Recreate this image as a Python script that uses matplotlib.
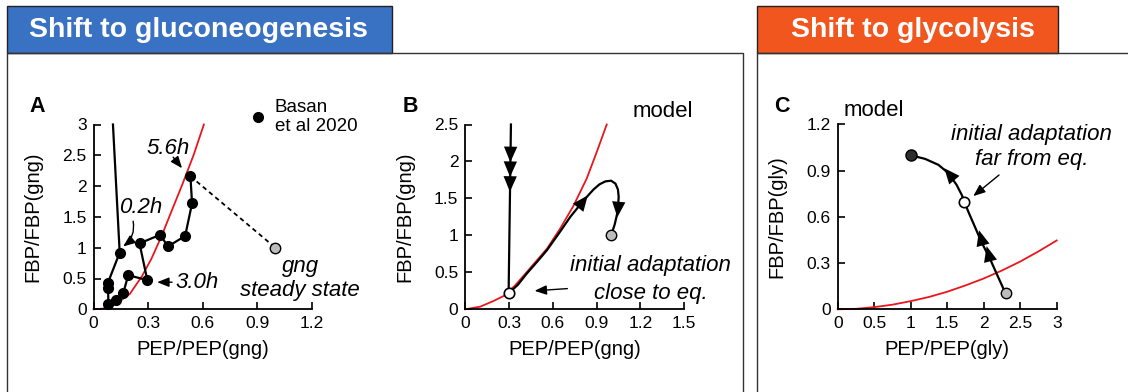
import matplotlib
matplotlib.use('Agg')
import matplotlib.pyplot as plt
from matplotlib.lines import Line2D
from matplotlib.patches import Rectangle

plt.rcParams['font.family'] = ['Liberation Sans', 'DejaVu Sans']

W, H = 1128, 392

# ---- panel A: Basan et al 2020 measurements, shift to gluconeogenesis
a_pep = [0.107, 0.144, 0.080, 0.080, 0.082, 0.122, 0.164, 0.191, 0.296, 0.253, 0.367, 0.409, 0.504, 0.542, 0.533]
a_fbp = [3.00, 0.92, 0.435, 0.34, 0.09, 0.147, 0.266, 0.554, 0.473, 1.07, 1.21, 1.02, 1.19, 1.72, 2.16]
a_red_pep = [0, 0.05, 0.10, 0.13, 0.20, 0.267, 0.32, 0.376, 0.43, 0.485, 0.55, 0.607]
a_red_fbp = [0, 0.01, 0.05, 0.10, 0.25, 0.54, 0.83, 1.20, 1.60, 2.00, 2.50, 3.00]
a_ss = (1.0, 1.0)

# ---- panel B: model, shift to gluconeogenesis
b_drop_pep = [0.313, 0.297]
b_drop_fbp = [2.50, 0.217]
b_path_pep = [0.297, 0.36, 0.42, 0.50, 0.56, 0.65, 0.72, 0.81, 0.879, 0.92, 0.96, 1.0, 1.03, 1.047, 1.052, 1.048, 1.04, 1.025, 1.0]
b_path_fbp = [0.217, 0.33, 0.48, 0.66, 0.80, 1.05, 1.25, 1.47, 1.62, 1.69, 1.73, 1.74, 1.70, 1.62, 1.52, 1.40, 1.28, 1.15, 1.0]
b_red_pep = [0, 0.103, 0.194, 0.263, 0.34, 0.42, 0.56, 0.65, 0.742, 0.833, 0.902, 0.97]
b_red_fbp = [0, 0.036, 0.113, 0.18, 0.32, 0.50, 0.82, 1.09, 1.40, 1.77, 2.13, 2.50]
b_start = (0.297, 0.217)
b_ss = (1.0, 1.0)
# arrowheads (tail -> tip)
b_arr_tail_pep = [0.310, 0.308, 0.307, 0.78, 1.05]
b_arr_tail_fbp = [2.10, 1.90, 1.70, 1.39, 1.40]
b_arr_tip_pep = [0.309, 0.307, 0.306, 0.84, 1.043]
b_arr_tip_fbp = [1.99, 1.79, 1.59, 1.54, 1.245]

# ---- panel C: model, shift to glycolysis
c_path_pep = [2.30, 2.20, 2.087, 1.97, 1.88, 1.79, 1.735, 1.70, 1.63, 1.516, 1.38, 1.196, 1.0]
c_path_fbp = [0.103, 0.207, 0.327, 0.436, 0.535, 0.633, 0.698, 0.742, 0.807, 0.884, 0.938, 0.977, 1.0]
c_red_pep = [0, 0.25, 0.5, 0.75, 1.0, 1.25, 1.5, 1.75, 2.0, 2.25, 2.5, 2.75, 3.0]
c_red_fbp = [0, 0.003, 0.014, 0.03, 0.053, 0.08, 0.114, 0.155, 0.2, 0.252, 0.31, 0.376, 0.447]
c_start = (1.0, 1.0)
c_mid = (1.735, 0.698)
c_ss = (2.30, 0.103)
c_arr_tail_pep = [2.00, 2.10, 1.56]
c_arr_tail_fbp = [0.40, 0.30, 0.86]
c_arr_tip_pep = [1.936, 2.04, 1.461]
c_arr_tip_fbp = [0.513, 0.41, 0.916]

RED = '#e8161d'


def axrect(l, r, t, b):
    return [l / W, 1 - b / H, (r - l) / W, (b - t) / H]


def style(ax, xlim, ylim, xticks, yticks, xlabel, ylabel):
    ax.set_xlim(*xlim)
    ax.set_ylim(*ylim)
    ax.set_xticks(xticks)
    ax.set_yticks(yticks)
    ax.set_xticklabels(['%g' % v for v in xticks])
    ax.set_yticklabels(['%g' % v for v in yticks])
    for s in ('top', 'right'):
        ax.spines[s].set_visible(False)
    for s in ('left', 'bottom'):
        ax.spines[s].set_linewidth(1.3)
    ax.tick_params(direction='in', length=5, width=1.2, labelsize=12.5, pad=5)
    ax.set_xlabel(xlabel, fontsize=14.5)
    ax.set_ylabel(ylabel, fontsize=14.5)
    ax.xaxis.set_label_coords(0.5, -0.165)
    ax.yaxis.set_label_coords(-0.235, 0.5)
    ax.patch.set_alpha(0)


def heads(ax, tx, ty, hx, hy):
    for x0, y0, x1, y1 in zip(tx, ty, hx, hy):
        ax.annotate('', xy=(x1, y1), xytext=(x0, y0),
                    arrowprops=dict(arrowstyle='-|>,head_length=0.7,head_width=0.3',
                                    color='k', lw=0, shrinkA=0, shrinkB=0,
                                    mutation_scale=16))


def pointer(ax, xy, xytext, rad=0.0):
    ax.annotate('', xy=xy, xytext=xytext,
                arrowprops=dict(arrowstyle='-|>,head_length=0.55,head_width=0.22',
                                color='k', lw=1.0, shrinkA=0, shrinkB=0,
                                mutation_scale=13,
                                connectionstyle='arc3,rad=%g' % rad))


fig = plt.figure(figsize=(W / 100, H / 100), dpi=100)

# frames and header boxes
frame = dict(color='#333333', lw=1.0, transform=fig.transFigure)
fig.add_artist(Line2D([7 / W, 7 / W, 743 / W, 743 / W], [0, 1 - 53 / H, 1 - 53 / H, 0], **frame))
fig.add_artist(Line2D([757 / W, 757 / W, 1], [0, 1 - 53 / H, 1 - 53 / H], **frame))
fig.add_artist(Rectangle((7 / W, 1 - 53 / H), (392 - 7) / W, 47 / H, transform=fig.transFigure,
                         fc='#3a72c3', ec='#222222', lw=1.0))
fig.add_artist(Rectangle((757 / W, 1 - 53 / H), (1058 - 757) / W, 47 / H, transform=fig.transFigure,
                         fc='#f1561e', ec='#222222', lw=1.0))
fig.text(29 / W, 1 - 37 / H, 'Shift to gluconeogenesis', color='white', fontsize=20.5,
         fontweight='bold', va='baseline', ha='left')
fig.text(791 / W, 1 - 37 / H, 'Shift to glycolysis', color='white', fontsize=20.5,
         fontweight='bold', va='baseline', ha='left')

for letter, x in (('A', 37), ('B', 410), ('C', 782)):
    fig.text(x / W, 1 - 106 / H, letter, fontsize=15.5, fontweight='bold', ha='center', va='center')

ital = dict(fontsize=16, style='italic', ha='center', va='center')

# ---------------- panel A
axA = fig.add_axes(axrect(93.5, 311.7, 124.5, 309.3))
style(axA, (0, 1.2), (0, 3), [0, 0.3, 0.6, 0.9, 1.2], [0, 0.5, 1, 1.5, 2, 2.5, 3],
      'PEP/PEP(gng)', 'FBP/FBP(gng)')
axA.plot(a_red_pep, a_red_fbp, color=RED, lw=1.3, clip_on=False, zorder=2)
axA.plot([a_pep[-1], a_ss[0]], [a_fbp[-1], a_ss[1]], color='k', lw=1.3, ls=(0, (2.5, 2)),
         clip_on=False, zorder=3)
axA.plot(a_pep, a_fbp, color='k', lw=1.6, clip_on=False, zorder=4)
axA.plot(a_pep[1:], a_fbp[1:], ls='none', marker='o', ms=7, mfc='k', mec='k', clip_on=False, zorder=5)
axA.plot(*a_ss, marker='o', ms=7.5, mfc='#bdbdbd', mec='k', mew=1.0, clip_on=False, zorder=5)

axA.text(0.41, 2.61, '5.6h', **ital)
pointer(axA, (0.487, 2.29), (0.438, 2.47))
axA.text(0.262, 1.65, '0.2h', **ital)
pointer(axA, (0.163, 1.02), (0.218, 1.43), rad=-0.3)
axA.text(0.449, 0.44, '3.0h', fontsize=16, style='italic', ha='left', va='center')
pointer(axA, (0.35, 0.44), (0.432, 0.44))
axA.text(1.137, 0.70, 'gng', **ital)
axA.text(1.137, 0.31, 'steady state', **ital)

leg_handle = Line2D([], [], ls='none', marker='o', ms=7, mfc='k', mec='k')
axA.legend([leg_handle], ['Basan\net al 2020'], loc='center left', bbox_to_anchor=(0.71, 1.04),
           frameon=False, fontsize=13.5, handlelength=1.0, handletextpad=0.4,
           borderpad=0, borderaxespad=0)

# ---------------- panel B
axB = fig.add_axes(axrect(465.3, 684.0, 124.5, 309.3))
style(axB, (0, 1.5), (0, 2.5), [0, 0.3, 0.6, 0.9, 1.2, 1.5], [0, 0.5, 1, 1.5, 2, 2.5],
      'PEP/PEP(gng)', 'FBP/FBP(gng)')
axB.plot(b_red_pep, b_red_fbp, color=RED, lw=1.3, clip_on=False, zorder=2)
axB.plot(b_drop_pep, b_drop_fbp, color='k', lw=1.6, clip_on=False, zorder=3)
axB.plot(b_path_pep, b_path_fbp, color='k', lw=1.6, clip_on=False, zorder=3)
heads(axB, b_arr_tail_pep, b_arr_tail_fbp, b_arr_tip_pep, b_arr_tip_fbp)
axB.plot(*b_start, marker='o', ms=7.5, mfc='white', mec='k', mew=1.2, clip_on=False, zorder=5)
axB.plot(*b_ss, marker='o', ms=7.5, mfc='#bdbdbd', mec='k', mew=1.0, clip_on=False, zorder=5)
axB.text(1.273, 0.59, 'initial adaptation', **ital)
axB.text(1.273, 0.21, 'close to eq.', **ital)
pointer(axB, (0.475, 0.25), (0.70, 0.28))
axB.text(1.353, 2.67, 'model', fontsize=16, ha='center', va='center')

# ---------------- panel C
axC = fig.add_axes(axrect(837.7, 1056.7, 124.5, 309.3))
style(axC, (0, 3), (0, 1.2), [0, 0.5, 1, 1.5, 2, 2.5, 3], [0, 0.3, 0.6, 0.9, 1.2],
      'PEP/PEP(gly)', 'FBP/FBP(gly)')
axC.plot(c_red_pep, c_red_fbp, color=RED, lw=1.3, clip_on=False, zorder=2)
axC.plot(c_path_pep, c_path_fbp, color='k', lw=1.6, clip_on=False, zorder=3)
heads(axC, c_arr_tail_pep, c_arr_tail_fbp, c_arr_tip_pep, c_arr_tip_fbp)
axC.plot(*c_start, marker='o', ms=8, mfc='#2e2e2e', mec='k', mew=1.0, clip_on=False, zorder=5)
axC.plot(*c_mid, marker='o', ms=7.5, mfc='white', mec='k', mew=1.2, clip_on=False, zorder=5)
axC.plot(*c_ss, marker='o', ms=7.5, mfc='#bdbdbd', mec='k', mew=1.0, clip_on=False, zorder=5)
axC.text(2.66, 1.134, 'initial adaptation', **ital)
axC.text(2.66, 0.97, 'far from eq.', **ital)
pointer(axC, (1.857, 0.735), (2.21, 0.872))
axC.text(0.488, 1.293, 'model', fontsize=16, ha='center', va='center')

fig.savefig('out.png', dpi=100)
